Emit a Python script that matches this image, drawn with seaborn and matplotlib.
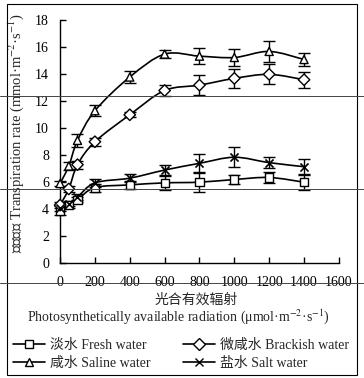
import numpy as np
import pandas as pd
import matplotlib
matplotlib.use('Agg')
import matplotlib.pyplot as plt
import seaborn as sns
from matplotlib.path import Path
from matplotlib.patches import PathPatch, Rectangle
from matplotlib.lines import Line2D

# 광합유효복사 (x) 와 각 처리의 증산속도
par = [0, 50, 100, 200, 400, 600, 800, 1000, 1200, 1400]

fresh = [3.9, 4.3, 4.7, 5.6, 5.8, 5.95, 6.0, 6.2, 6.35, 6.0]
fresh_err = [0.3, 0.2, 0.2, 0.3, 0.3, 0.5, 0.75, 0.35, 0.4, 0.55]

brackish = [4.3, 5.5, 7.3, 9.0, 11.0, 12.8, 13.2, 13.7, 14.0, 13.6]
brackish_err = [0.2, 0.2, 0.3, 0.3, 0.2, 0.4, 0.75, 0.7, 0.75, 0.6]

saline = [5.9, 7.2, 9.1, 11.3, 13.8, 15.5, 15.35, 15.25, 15.7, 15.1]
saline_err = [0.2, 0.3, 0.5, 0.4, 0.45, 0.3, 0.6, 0.6, 0.8, 0.45]

salt = [4.1, 4.4, 4.9, 5.95, 6.3, 6.9, 7.4, 7.85, 7.45, 7.15]
salt_err = [0.2, 0.2, 0.2, 0.3, 0.3, 0.4, 0.7, 0.75, 0.4, 0.55]

labels = ['淡水 Fresh water', '微咸水 Brackish water', '咸水 Saline water', '盐水 Salt water']
markers = ['s', 'D', '^', 'x']
series = [(fresh, fresh_err), (brackish, brackish_err), (saline, saline_err), (salt, salt_err)]

rows = []
for lab, (v, e) in zip(labels, series):
    for x, y, s in zip(par, v, e):
        rows.append({'par': x, 'rate': y, 'err': s, 'water': lab})
df = pd.DataFrame(rows)

sns.set_style('ticks')
plt.rcParams['font.family'] = ['Liberation Serif', 'Noto Sans CJK SC']
plt.rcParams['mathtext.fontset'] = 'stix'
plt.rcParams['font.size'] = 10

fig = plt.figure(figsize=(3.64, 3.78), dpi=100)
ax = fig.add_axes([0.165, 0.304, 0.766, 0.642])


def smooth_path(xs, ys):
    # 엑셀식 부드러운 선 (베지어)
    p = np.column_stack([xs, ys]).astype(float)
    n = len(p)
    verts = [p[0]]
    codes = [Path.MOVETO]
    for i in range(n - 1):
        p0 = p[i - 1] if i > 0 else p[i]
        p3 = p[i + 2] if i + 2 < n else p[i + 1]
        c1 = p[i] + (p[i + 1] - p0) / 6
        c2 = p[i + 1] - (p3 - p[i]) / 6
        verts += [c1, c2, p[i + 1]]
        codes += [Path.CURVE4] * 3
    return Path(verts, codes)


for lab, m in zip(labels, markers):
    d = df[df['water'] == lab]
    ax.add_patch(PathPatch(smooth_path(d['par'], d['rate']), fill=False,
                           edgecolor='black', lw=1.2, clip_on=False, zorder=2))
    ax.errorbar(d['par'], d['rate'], yerr=d['err'], fmt='none', ecolor='black',
                elinewidth=1.0, capsize=4, capthick=1.0, clip_on=False, zorder=3)

filled = df[df['water'] != labels[3]]
sns.scatterplot(data=filled, x='par', y='rate', style='water',
                markers=dict(zip(labels[:3], markers[:3])), color='white',
                s=34, edgecolor='black', linewidth=1.0, legend=False, ax=ax,
                zorder=4, clip_on=False)
d = df[df['water'] == labels[3]]
sns.scatterplot(data=d, x='par', y='rate', marker='x', s=34, color='black',
                linewidth=1.2, legend=False, ax=ax, zorder=5, clip_on=False)

ax.set_xlim(0, 1600)
ax.set_ylim(0, 18)
ax.set_xticks(range(0, 1601, 200))
ax.set_yticks(range(0, 19, 2))
ax.tick_params(direction='in', length=4, width=1, colors='black', labelsize=10)
ax.tick_params(axis='y', pad=8)
ax.tick_params(axis='x', pad=9)
sns.despine(ax=ax)
for s in ['left', 'bottom']:
    ax.spines[s].set_linewidth(1.0)
    ax.spines[s].set_color('black')

ax.set_xlabel('')
ax.set_ylabel('蒸腾速率 Transpiration rate (mmol·m$^{-2}$·s$^{-1}$)', fontsize=10.5)
ax.yaxis.set_label_coords(-0.122, 0.537)

fig.text(0.54, 0.206, '光合有效辐射', ha='center', va='center', fontsize=10)
fig.text(0.49, 0.163, 'Photosynthetically available radiation (μmol·m$^{-2}$·s$^{-1}$)',
         ha='center', va='center', fontsize=10)

handles = [Line2D([], [], color='black', lw=1.2, marker=m, markersize=6,
                  markerfacecolor='white', markeredgecolor='black') for m in markers]
order = [0, 2, 1, 3]
fig.legend([handles[i] for i in order], [labels[i] for i in order], ncol=2,
           loc='upper left', bbox_to_anchor=(13 / 364, 1 - 339 / 378), frameon=False,
           borderpad=0, borderaxespad=0, handlelength=2.3, columnspacing=2.3,
           handletextpad=0.4, labelspacing=0.35, fontsize=10)

# 테두리 및 스캔 선
fig.add_artist(Rectangle((7 / 364, 3 / 378), 350 / 364, 371 / 378, fill=False,
                         edgecolor='black', lw=0.8, transform=fig.transFigure))
for yy in [96, 189, 283]:
    fig.add_artist(Line2D([0, 1], [1 - yy / 378, 1 - yy / 378], color='#444444',
                          lw=0.7, transform=fig.transFigure))

fig.savefig('out.png', dpi=100)
